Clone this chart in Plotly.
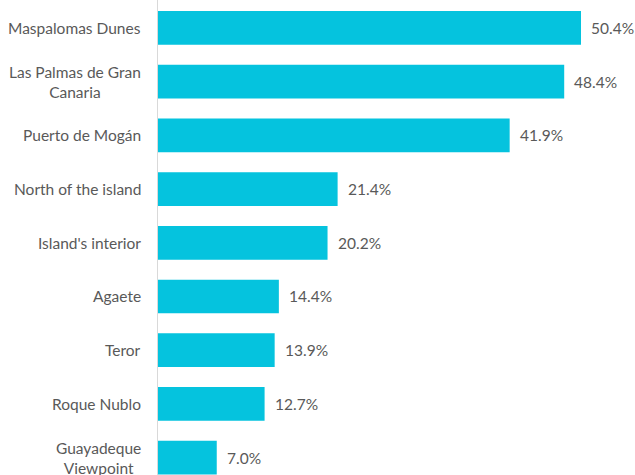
import plotly.graph_objects as go

categories = ["Maspalomas Dunes", "Las Palmas de Gran<br>Canaria", "Puerto de Mogán",
              "North of the island", "Island's interior", "Agaete", "Teror",
              "Roque Nublo", "Guayadeque<br>Viewpoint"]
values = [50.4, 48.4, 41.9, 21.4, 20.2, 14.4, 13.9, 12.7, 7.0]
labels = [f"{v:.1f}%" for v in values]

FONT = "Lato, Carlito, Calibri, sans-serif"
TXT = "#595959"

fig = go.Figure(go.Bar(
    y=categories, x=values, orientation="h",
    marker=dict(color="#05C3DE", line=dict(width=0)),
    hoverinfo="skip",
))

annotations = []
for c, v, t in zip(categories, values, labels):
    annotations.append(dict(x=v, y=c, xref="x", yref="y", text=t, showarrow=False,
                            xanchor="left", xshift=8, font=dict(family=FONT, size=15.5, color=TXT)))
    annotations.append(dict(x=0, y=c, xref="paper", yref="y", text=c, showarrow=False,
                            xanchor="right", align="center", xshift=-15,
                            font=dict(family=FONT, size=15.5, color=TXT)))

fig.update_layout(
    width=635, height=475,
    margin=dict(l=158, r=7, t=0, b=0),
    paper_bgcolor="white", plot_bgcolor="white",
    bargap=0.372,
    showlegend=False,
    hovermode=False,
    xaxis=dict(range=[0, 56], visible=False, fixedrange=True),
    yaxis=dict(range=[8.324, -0.521], showticklabels=False, showgrid=False, fixedrange=True,
               showline=True, linecolor="#D9D9D9", linewidth=1, zeroline=False, ticks=""),
    annotations=annotations,
)

fig.write_html("out.html", config={"displayModeBar": False, "staticPlot": True},
               post_script="document.body.style.margin='0';document.body.style.overflow='hidden';")
